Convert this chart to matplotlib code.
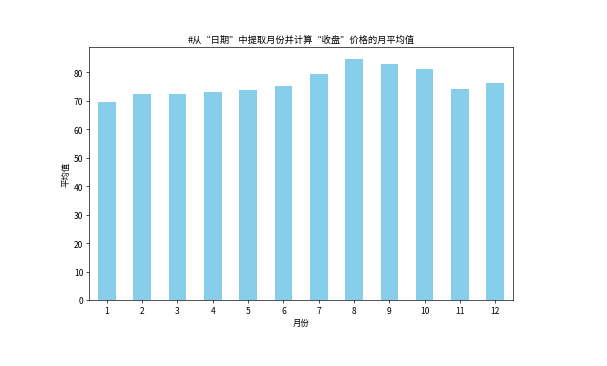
import matplotlib
matplotlib.use('Agg')
import matplotlib.pyplot as plt
import pandas as pd

plt.rcParams['font.family'] = ['Noto Sans CJK SC', 'DejaVu Sans']
plt.rcParams['axes.unicode_minus'] = False

months = [1, 2, 3, 4, 5, 6, 7, 8, 9, 10, 11, 12]
avg_close = [69.6, 72.3, 72.5, 73.2, 73.7, 75.2, 79.4, 84.7, 83.0, 81.1, 74.1, 76.2]

s = pd.Series(avg_close, index=months)

fig = plt.figure(figsize=(10, 6.046), dpi=60.7)
ax = fig.add_axes([0.147, 0.180, 0.698, 0.689])
s.plot(kind='bar', color='skyblue', ax=ax)
ax.set_title('#从“日期”中提取月份并计算“收盘”价格的月平均值', fontsize=11)
ax.set_xlabel('月份')
ax.set_ylabel('平均值')
ax.set_xticklabels(months, rotation=0)

fig.savefig('out.png', dpi=60.7)
